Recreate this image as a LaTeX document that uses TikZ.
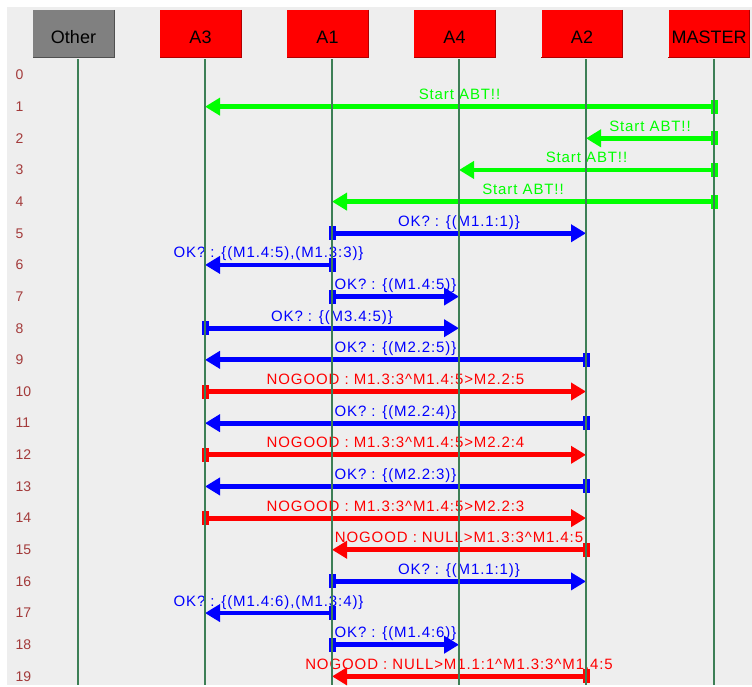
\documentclass[tikz,border=0pt]{standalone}
\usepackage{fontspec}
\setmainfont{Liberation Sans}
\newfontfamily\lblfont[LetterSpace=6]{Liberation Sans}
\usetikzlibrary{arrows.meta}

\definecolor{panel}{HTML}{EEEEEE}
\definecolor{lifeline}{HTML}{3D7F56}
\definecolor{rownum}{HTML}{A33A3A}
\definecolor{abtgreen}{HTML}{00FF00}
\definecolor{okblue}{HTML}{0000FF}
\definecolor{ngred}{HTML}{FF0000}
\definecolor{hdrred}{HTML}{FF0000}
\definecolor{hdrredshade}{HTML}{B00000}
\definecolor{hdrgray}{HTML}{808080}
\definecolor{hdrgrayshade}{HTML}{505050}

\tikzset{
  hdr/.style={minimum width=81pt, minimum height=47pt, inner sep=0pt,
    text height=19pt, text depth=0pt,
    font=\fontsize{18}{20}\selectfont, text=black},
  rowlbl/.style={anchor=west, inner sep=0pt, text=rownum,
    font=\fontsize{14}{16}\selectfont},
  lifeln/.style={draw=lifeline, line width=1.4pt},
  msg/.style={line width=4.8pt, -{Triangle[length=15pt,width=17pt]}},
  srcmark/.style={minimum width=7pt, minimum height=14pt, inner sep=0pt, draw=none},
  msglbl/.style={midway, anchor=base, yshift=7pt, inner sep=0pt,
    font=\lblfont\fontsize{15}{17}\selectfont},
}

\begin{document}
\begin{tikzpicture}[x=1pt,y=-1pt]
\useasboundingbox (0,0) rectangle (752,686);
\fill[white] (0,0) rectangle (752,686);
\fill[panel] (7,7) rectangle (752,685);

% lifeline tops
\coordinate (Other)  at (78,59);
\coordinate (A3)     at (205,59);
\coordinate (A1)     at (332,59);
\coordinate (A4)     at (459,59);
\coordinate (A2)     at (586,59);
\coordinate (MASTER) at (714,59);
\coordinate (bottom) at (0,685);

% header boxes
\foreach \n/\cx/\fc/\sc in {Other/73.5/hdrgray/hdrgrayshade, A3/200.5/hdrred/hdrredshade,
    A1/327.5/hdrred/hdrredshade, A4/454.5/hdrred/hdrredshade,
    A2/582/hdrred/hdrredshade, MASTER/709/hdrred/hdrredshade}{
  \node[hdr, fill=\fc] (h\n) at (\cx,33.5) {\n};
  \draw[\sc, line width=1.2pt] (h\n.north east) -- (h\n.south east) -- (h\n.south west);
}

% row numbers
\foreach \r in {0,...,19}{
  \coordinate (r\r) at (0,75+31.65*\r);
  \node[rowlbl] (n\r) at (15.5,75+31.65*\r) {\r};
}

\begin{scope}
\clip (7,7) rectangle (752,685);
% messages: row / sender / receiver / colour / text
\foreach \r/\a/\b/\c/\t in {
  1/MASTER/A3/abtgreen/{Start ABT!!},
  2/MASTER/A2/abtgreen/{Start ABT!!},
  3/MASTER/A4/abtgreen/{Start ABT!!},
  4/MASTER/A1/abtgreen/{Start ABT!!},
  5/A1/A2/okblue/{OK? : \{(M1.1:1)\}},
  6/A1/A3/okblue/{OK? : \{(M1.4:5),(M1.3:3)\}},
  7/A1/A4/okblue/{OK? : \{(M1.4:5)\}},
  8/A3/A4/okblue/{OK? : \{(M3.4:5)\}},
  9/A2/A3/okblue/{OK? : \{(M2.2:5)\}},
  10/A3/A2/ngred/{NOGOOD : M1.3:3\textasciicircum M1.4:5>M2.2:5},
  11/A2/A3/okblue/{OK? : \{(M2.2:4)\}},
  12/A3/A2/ngred/{NOGOOD : M1.3:3\textasciicircum M1.4:5>M2.2:4},
  13/A2/A3/okblue/{OK? : \{(M2.2:3)\}},
  14/A3/A2/ngred/{NOGOOD : M1.3:3\textasciicircum M1.4:5>M2.2:3},
  15/A2/A1/ngred/{NOGOOD : NULL>M1.3:3\textasciicircum M1.4:5},
  16/A1/A2/okblue/{OK? : \{(M1.1:1)\}},
  17/A1/A3/okblue/{OK? : \{(M1.4:6),(M1.3:4)\}},
  18/A1/A4/okblue/{OK? : \{(M1.4:6)\}},
  19/A2/A1/ngred/{NOGOOD : NULL>M1.1:1\textasciicircum M1.3:3\textasciicircum M1.4:5}}{
  \draw[msg, draw=\c, fill=\c] (\a |- r\r) -- (\b |- r\r)
    node[msglbl, text=\c] {\t};
  \node[srcmark, fill=\c] (m\r) at (\a |- r\r) {};
}

% lifelines on top
\foreach \n in {Other,A3,A1,A4,A2,MASTER}{
  \draw[lifeln] (\n) -- (\n |- bottom);
}
\end{scope}
\end{tikzpicture}
\end{document}
